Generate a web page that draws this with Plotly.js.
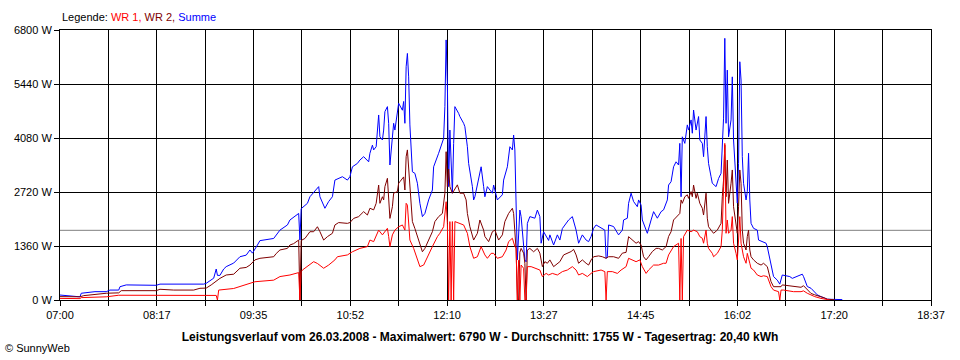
<!DOCTYPE html>
<html>
<head>
<meta charset="utf-8">
<script src="https://cdn.plot.ly/plotly-3.0.1.min.js"></script>
<style>html,body{margin:0;padding:0;background:#fff;}#chart{width:960px;height:360px;}</style>
</head>
<body>
<div id="chart"></div>
<script>
// ---- data ----
const axisStart = '07:00';
const axisEnd = '18:37';
const tickLabels = ['07:00','08:17','09:35','10:52','12:10','13:27','14:45','16:02','17:20','18:37'];
const yMax = 6800;
const yStep = 1360;
const average = 1755;
const seriesNames = ['WR 1', 'WR 2', 'Summe'];
const seriesColors = ['#ff0000', '#800000', '#0000ff'];
const chartTitle = 'Leistungsverlauf vom 26.03.2008 - Maximalwert: 6790 W - Durchschnitt: 1755 W - Tagesertrag: 20,40 kWh';
const credit = '\u00A9 SunnyWeb';

const tSumme = ['07:00','07:16','07:17','07:28','07:37','07:40','07:47','07:48','07:53','08:17','08:20','08:40','08:55','08:57','09:03','09:05','09:06','09:08','09:11','09:13','09:19','09:24','09:29','09:32','09:34','09:38','09:40','09:51','09:56','10:02','10:04','10:11','10:12','10:13','10:18','10:20','10:26','10:27','10:28','10:31','10:32','10:35','10:38','10:40','10:46','10:50','10:52','10:54','10:58','11:00','11:03','11:07','11:08','11:10','11:11','11:13','11:15','11:16','11:18','11:19','11:20','11:22','11:23','11:24','11:26','11:27','11:28','11:30','11:31','11:34','11:35','11:36','11:37','11:38','11:39','11:40','11:42','11:44','11:46','11:48','11:50','11:52','11:55','11:58','11:59','12:03','12:07','12:08','12:09','12:10','12:11','12:12','12:14','12:15','12:16','12:19','12:20','12:23','12:24','12:26','12:27','12:30','12:31','12:32','12:37','12:39','12:40','12:42','12:46','12:47','12:50','12:54','12:55','12:58','13:00','13:02','13:03','13:04','13:05','13:06','13:08','13:09','13:12','13:13','13:14','13:16','13:20','13:22','13:24','13:25','13:27','13:31','13:32','13:35','13:38','13:40','13:42','13:47','13:50','13:53','13:55','13:58','14:01','14:03','14:05','14:07','14:09','14:14','14:16','14:17','14:18','14:19','14:23','14:27','14:30','14:31','14:34','14:35','14:37','14:39','14:42','14:43','14:45','14:46','14:49','14:50','14:53','14:55','14:58','15:01','15:03','15:06','15:07','15:09','15:11','15:13','15:15','15:16','15:17','15:18','15:20','15:22','15:23','15:25','15:26','15:27','15:29','15:30','15:31','15:32','15:34','15:35','15:37','15:38','15:39','15:41','15:42','15:45','15:47','15:49','15:50','15:51','15:52','15:53','15:54','15:55','15:57','15:58','15:59','16:01','16:02','16:03','16:04','16:05','16:06','16:07','16:09','16:10','16:11','16:12','16:13','16:15','16:18','16:19','16:22','16:25','16:26','16:29','16:31','16:34','16:36','16:38','16:44','16:46','16:50','16:54','16:55','16:58','17:01','17:04','17:06','17:09','17:12','17:14','17:26'];
const summe = [125,80,170,210,210,250,250,335,380,370,400,390,400,420,550,780,620,620,780,840,930,1090,1130,1260,1180,1385,1495,1550,1760,1890,2015,2180,1510,2300,2435,2600,2810,2855,2600,2390,2310,2480,2600,3020,3105,3020,3105,3355,3440,3525,3610,3480,3695,3900,3780,3860,4660,4110,4030,4280,4745,4870,4450,3400,4030,4450,4280,4660,4955,4780,5000,4450,5875,6210,5620,4410,3230,3190,2940,2435,2100,2180,2520,2770,3355,3695,4070,4870,6550,5460,2855,4280,2690,3940,4870,4700,4620,4450,4365,3860,3440,2855,2520,2600,3355,2855,2600,2855,2690,2895,2520,2650,3020,3355,3860,3780,4155,3780,2350,1010,2265,2100,1010,960,1930,2100,2060,2265,2100,1430,1720,1500,1640,1385,1640,1510,1800,2015,2100,1760,1430,1640,1510,1470,1600,1805,1890,1800,1760,1050,1090,1890,1850,1640,1760,2015,2060,2435,2690,2480,2350,2520,2390,2015,1720,1680,2015,2225,2060,2225,2270,2520,2895,2980,3355,3480,3400,3945,2600,4110,3945,4410,4280,4535,4200,4785,4280,4450,4620,4030,3945,3610,4620,3860,3440,3105,2940,2855,3060,3190,4110,4580,6590,4450,5790,4110,4535,5620,4030,2940,2440,3440,6000,5540,3610,2940,2520,2730,3695,2520,1930,1805,1760,1510,1470,1430,1340,840,590,500,400,630,590,545,590,650,590,340,295,210,130,85,50,20,10];

const tWR2 = ['07:00','07:16','07:19','07:37','07:47','07:49','08:17','08:20','08:31','08:47','08:52','08:57','09:01','09:04','09:08','09:13','09:19','09:24','09:29','09:32','09:36','09:40','09:51','09:53','09:56','10:02','10:04','10:07','10:11','10:12','10:13','10:16','10:20','10:23','10:26','10:28','10:31','10:34','10:38','10:40','10:43','10:50','10:52','10:55','10:59','11:03','11:06','11:08','11:11','11:13','11:15','11:16','11:18','11:19','11:20','11:22','11:23','11:24','11:26','11:27','11:30','11:31','11:32','11:34','11:35','11:36','11:37','11:38','11:39','11:40','11:42','11:44','11:47','11:50','11:52','11:55','11:58','12:00','12:03','12:06','12:08','12:09','12:10','12:11','12:12','12:14','12:18','12:20','12:23','12:25','12:26','12:28','12:31','12:34','12:36','12:39','12:40','12:43','12:46','12:48','12:51','12:54','12:56','12:59','13:02','13:03','13:05','13:06','13:07','13:08','13:09','13:11','13:12','13:13','13:14','13:16','13:19','13:22','13:24','13:26','13:28','13:30','13:32','13:35','13:38','13:40','13:43','13:46','13:49','13:51','13:53','13:55','13:58','14:01','14:03','14:05','14:07','14:11','14:14','14:17','14:19','14:23','14:27','14:30','14:33','14:35','14:38','14:41','14:43','14:45','14:47','14:49','14:51','14:54','14:57','14:59','15:02','15:05','15:07','15:09','15:11','15:14','15:16','15:17','15:18','15:20','15:22','15:23','15:25','15:26','15:27','15:29','15:30','15:32','15:34','15:35','15:37','15:38','15:39','15:41','15:43','15:46','15:49','15:50','15:51','15:52','15:53','15:54','15:55','15:57','15:58','15:59','16:01','16:02','16:03','16:04','16:05','16:06','16:07','16:09','16:10','16:11','16:12','16:13','16:15','16:18','16:21','16:23','16:26','16:29','16:31','16:37','16:38','16:42','16:47','16:53','16:55','16:58','17:01','17:04','17:09','17:12','17:14','17:20'];
const wr2 = [85,80,110,170,180,235,235,270,250,250,295,300,380,460,545,630,650,800,820,880,1010,1050,1090,1170,1260,1300,1385,1420,1510,0,1500,1550,1720,1720,1845,1720,1510,1595,1680,1890,1950,1930,1950,2055,2100,2225,2140,2310,2270,2435,2895,2435,2600,2520,2855,3065,2600,2055,2350,2690,2730,2940,2980,3065,3100,2770,3610,3780,3360,2690,1975,1800,1510,1215,1300,1510,1720,1975,2100,2180,2690,3735,2855,3300,2855,2690,2900,2690,2690,2520,2180,1845,1510,1680,2015,1760,1600,1470,1720,1760,1510,1640,1975,2180,2310,2180,1260,0,0,1200,1300,1180,925,0,1260,1300,1215,1300,1180,840,965,925,1010,840,925,965,1135,1180,1220,1275,1135,925,1010,925,880,1010,1090,1110,1090,1050,1090,1090,1050,1180,1200,1595,1510,1430,1470,1385,1090,1010,1090,1220,1300,1300,1260,1345,1600,1720,2015,2100,2180,2520,2435,2600,2650,2560,2730,2600,2895,2560,2690,2435,2310,2140,2690,2060,1845,1760,1680,1760,1930,2600,3020,3900,2600,3525,2435,2940,3275,2350,1845,1680,2350,3275,2940,1760,1430,1260,1600,1760,1260,1090,1010,925,880,925,840,460,335,335,380,360,335,320,360,250,165,130,85,50,20,5];

const tWR1 = ['07:00','07:16','07:17','07:37','07:47','08:20','09:05','09:06','09:07','09:19','09:24','09:29','09:32','09:36','09:51','09:56','10:04','10:11','10:12','10:13','10:14','10:18','10:23','10:26','10:31','10:35','10:40','10:42','10:50','10:54','11:00','11:06','11:08','11:11','11:14','11:15','11:18','11:22','11:23','11:24','11:26','11:28','11:31','11:34','11:36','11:37','11:38','11:39','11:40','11:43','11:46','11:48','11:51','11:54','11:58','12:02','12:04','12:07','12:09','12:10','12:11','12:12','12:13','12:14','12:15','12:16','12:19','12:23','12:26','12:28','12:31','12:34','12:37','12:40','12:42','12:45','12:47','12:50','12:54','12:57','12:59','13:02','13:04','13:05','13:06','13:07','13:08','13:09','13:11','13:12','13:13','13:14','13:17','13:20','13:24','13:26','13:29','13:31','13:34','13:38','13:42','13:46','13:50','13:53','13:55','13:58','14:02','14:05','14:07','14:13','14:16','14:17','14:18','14:22','14:26','14:29','14:33','14:35','14:38','14:41','14:44','14:46','14:49','14:51','14:55','14:59','15:03','15:05','15:07','15:11','15:15','15:16','15:17','15:18','15:19','15:22','15:25','15:27','15:30','15:32','15:34','15:35','15:37','15:38','15:39','15:42','15:43','15:46','15:49','15:50','15:51','15:52','15:53','15:54','15:55','15:57','15:58','15:59','16:01','16:02','16:03','16:04','16:05','16:07','16:09','16:10','16:12','16:13','16:15','16:18','16:21','16:23','16:26','16:29','16:31','16:34','16:35','16:36','16:37','16:39','16:44','16:47','16:53','16:55','16:58','17:04','17:09','17:12','17:16'];
const wr1 = [40,35,60,80,120,115,115,0,250,290,335,380,420,460,500,590,630,690,0,720,755,840,965,920,800,880,1010,1090,1135,1215,1300,1345,1510,1470,1680,1760,1640,1805,1600,1345,1640,1760,1845,1890,1760,2435,2390,2010,1510,1300,1050,840,880,1090,1345,1595,1680,1845,2475,1930,0,1975,0,1975,0,1975,1930,1890,1680,1345,1050,1090,1345,1135,1050,1175,1175,1050,1090,1260,1470,1555,1345,1300,0,1000,0,880,800,0,0,840,840,800,755,590,670,630,670,630,715,755,840,755,630,670,590,670,715,755,715,0,715,715,670,755,840,1050,1010,965,1010,840,670,755,880,880,925,925,1135,1345,1430,0,1550,0,1595,1760,1720,1760,1720,1595,1555,1430,1760,1430,1300,1175,1090,1175,1345,1760,2855,3945,1680,2015,1680,1760,2100,1430,1175,1010,1510,2100,1430,1090,925,1175,925,800,755,630,590,610,590,335,250,210,210,0,250,250,230,210,210,230,170,85,40,20,0];

// ---- helpers ----
const toMin = s => { const p = s.split(':').map(Number); return p[0] * 60 + p[1]; };
const x0 = toMin(axisStart), x1 = toMin(axisEnd);
const nGrid = (tickLabels.length - 1) * 2;
const tickvals = [], ticktext = [];
for (let i = 0; i <= nGrid; i++) {
  tickvals.push(x0 + (x1 - x0) * i / nGrid);
  ticktext.push(i % 2 === 0 ? tickLabels[i / 2] : '');
}

const FONT = 'Liberation Sans, Arial, sans-serif';
const mk = (t, v, i) => ({
  type: 'scatter', mode: 'lines', name: seriesNames[i],
  x: t.map(toMin), y: v,
  line: {color: seriesColors[i], width: 1},
  hoverinfo: 'skip', showlegend: false
});
const traces = [mk(tSumme, summe, 2), mk(tWR2, wr2, 1), mk(tWR1, wr1, 0)];

const legendText = 'Legende: ' + seriesNames.map((n, i) =>
  '<span style="color:' + seriesColors[i] + '">' + n + (i < seriesNames.length - 1 ? ',' : '') + '</span>').join(' ');

const axisCommon = {
  showgrid: true, gridcolor: '#000000', gridwidth: 1,
  showline: true, linecolor: '#000000', linewidth: 1, mirror: true,
  ticks: 'outside', ticklen: 5, tickcolor: '#000000', tickwidth: 1,
  zeroline: false, fixedrange: true,
  tickfont: {family: FONT, size: 11, color: '#000000'}
};

const layout = {
  width: 960, height: 360,
  margin: {l: 60, r: 29, t: 30, b: 60, pad: 0},
  paper_bgcolor: '#ffffff', plot_bgcolor: '#ffffff',
  font: {family: FONT, size: 11, color: '#000000'},
  title: {
    text: '<b>' + chartTitle + '</b>',
    font: {family: FONT, size: 12, color: '#000000'},
    x: 0.5, xref: 'container', xanchor: 'center',
    y: 1 - 337 / 360, yref: 'container', yanchor: 'middle'
  },
  xaxis: Object.assign({}, axisCommon, {
    type: 'linear', range: [x0, x1],
    tickmode: 'array', tickvals: tickvals, ticktext: ticktext
  }),
  yaxis: Object.assign({}, axisCommon, {
    range: [0, yMax], tickmode: 'linear', tick0: 0, dtick: yStep,
    tickformat: 'd', ticksuffix: ' W'
  }),
  shapes: [{
    type: 'line', xref: 'paper', x0: 0, x1: 1, yref: 'y', y0: average, y1: average,
    line: {color: '#808080', width: 1}, layer: 'below'
  }],
  annotations: [
    {text: legendText, xref: 'paper', yref: 'paper', x: 0, y: 1 + 13 / 270,
     xanchor: 'left', yanchor: 'middle', showarrow: false,
     font: {family: FONT, size: 11, color: '#000000'}},
    {text: credit, xref: 'paper', yref: 'paper', x: (3 - 60) / 871, y: (300 - 348) / 270,
     xanchor: 'left', yanchor: 'middle', showarrow: false,
     font: {family: FONT, size: 11, color: '#000000'}}
  ]
};

Plotly.newPlot('chart', traces, layout, {staticPlot: true, displayModeBar: false});
</script>
</body>
</html>
